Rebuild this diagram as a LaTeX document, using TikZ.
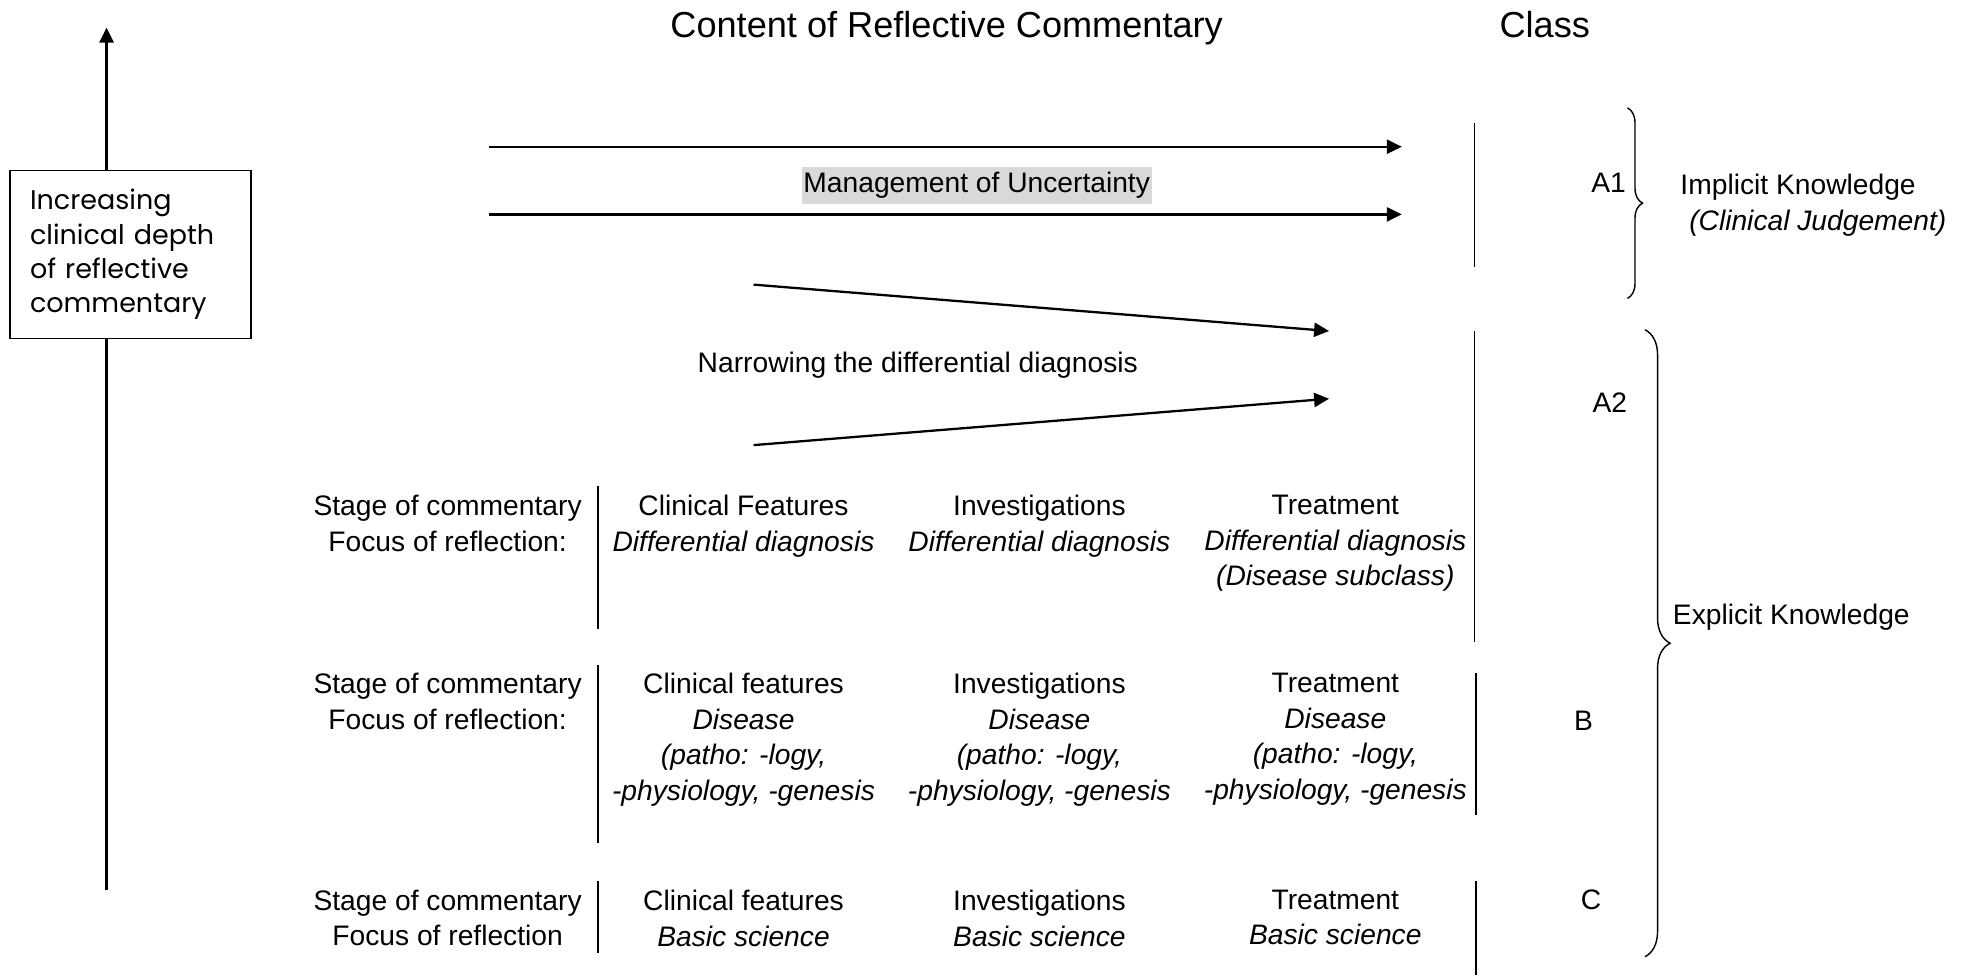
\documentclass[tikz,border=0pt]{standalone}
\usepackage{fontspec}
\setmainfont{Liberation Sans}
\newfontfamily\gothicfont{Poppins}
\usetikzlibrary{arrows.meta,positioning,decorations.pathreplacing}

\begin{document}
\begin{tikzpicture}[x=0.025cm, y=-0.025cm,
  every node/.style={font=\fontsize{16}{20.2}\selectfont, inner sep=0pt},
  arr/.style={-{Triangle[length=8.5pt,width=8pt]}, line width=1.3pt},
  sep/.style={line width=1pt},
  cell/.style={align=center, anchor=north},
  brc/.style={decorate, decoration={brace, amplitude=#1}, line width=0.8pt}]
\useasboundingbox (0,0) rectangle (1568,778);
% headings
\node[font=\fontsize{20.5}{24}\selectfont, anchor=base] (title) at (755,30) {Content of Reflective Commentary};
\node[font=\fontsize{20.5}{24}\selectfont, anchor=base] (class) at (1232,30) {Class};
% depth axis
\node[draw, line width=1pt, minimum width=4.8cm, minimum height=3.35cm, text width=4cm, align=left,
  font=\gothicfont\fontsize{15.3}{19.5}\selectfont] (depth) at (104,203) {Increasing\\clinical depth\\of reflective\\commentary};
\coordinate (top) at (85,22);
\coordinate (bot) at (85,710);
\draw[arr] (depth.north -| top) -- (top);
\draw[line width=1.3pt] (depth.south -| bot) -- (bot);
% management of uncertainty
\coordinate (m1a) at (390,117); \coordinate (m1b) at (1118,117);
\coordinate (m2a) at (390,171); \coordinate (m2b) at (1118,171);
\draw[arr] (m1a) -- (m1b);
\draw[arr] (m2a) -- (m2b);
\node[fill=black!15, inner xsep=1pt, inner ysep=3pt] (mgmt) at (779,148) {Management of Uncertainty};
% narrowing
\coordinate (n1a) at (601,227); \coordinate (n1b) at (1060,264);
\coordinate (n2a) at (601,355); \coordinate (n2b) at (1060,318);
\draw[arr] (n1a) -- (n1b);
\draw[arr] (n2a) -- (n2b);
\node (narrow) at (732,291) {Narrowing the differential diagnosis};
% stages
\node[cell] (s1) at (357,394.5) {Stage of commentary\\Focus of reflection:};
\node[cell] (s2) at (357,536.5) {Stage of commentary\\Focus of reflection:};
\node[cell] (s3) at (357,709.5) {Stage of commentary\\Focus of reflection};
\node[cell] (c11) at (593,394.5) {Clinical Features\\\textit{Differential diagnosis}};
\node[cell] (c12) at (829,394.5) {Investigations\\\textit{Differential diagnosis}};
\node[cell] (c13) at (1065,394.5) {Treatment\\\textit{Differential diagnosis}\\\textit{(Disease subclass)}};
\foreach \x/\h [count=\i] in {593/Clinical features, 829/Investigations, 1065/Treatment} {
  \node[cell] (c2\i) at (\x,536.5) {\h\\\textit{Disease}\\\textit{(patho: -logy,}\\\textit{-physiology, -genesis}};
  \node[cell] (c3\i) at (\x,709.5) {\h\\\textit{Basic science}};
}
\foreach \a/\b in {388/502, 530/672, 703/760}
  \draw[sep] (477,\a) -- (477,\b);
% class
\draw[sep] (1176,98) -- (1176,213);
\draw[sep] (1176,264) -- (1176,512);
\draw[sep] (1177,537) -- (1177,650);
\draw[sep] (1177,703) -- (1177,778);
\node (a1) at (1283,146) {A1};
\node (a2) at (1284,321) {A2};
\node (b) at (1263,575) {B};
\node (c) at (1269,718) {C};
\draw[brc=0.3cm] (1298,86) -- (1298,238);
\draw[brc=0.5cm] (1312,263) -- (1312,763);
\node[anchor=west] (impl) at (1340,149) {Implicit Knowledge};
\node[anchor=west] (judg) at (1347,178) {\textit{(Clinical Judgement)}};
\node[anchor=west] (expl) at (1334,492) {Explicit Knowledge};
\end{tikzpicture}
\end{document}
